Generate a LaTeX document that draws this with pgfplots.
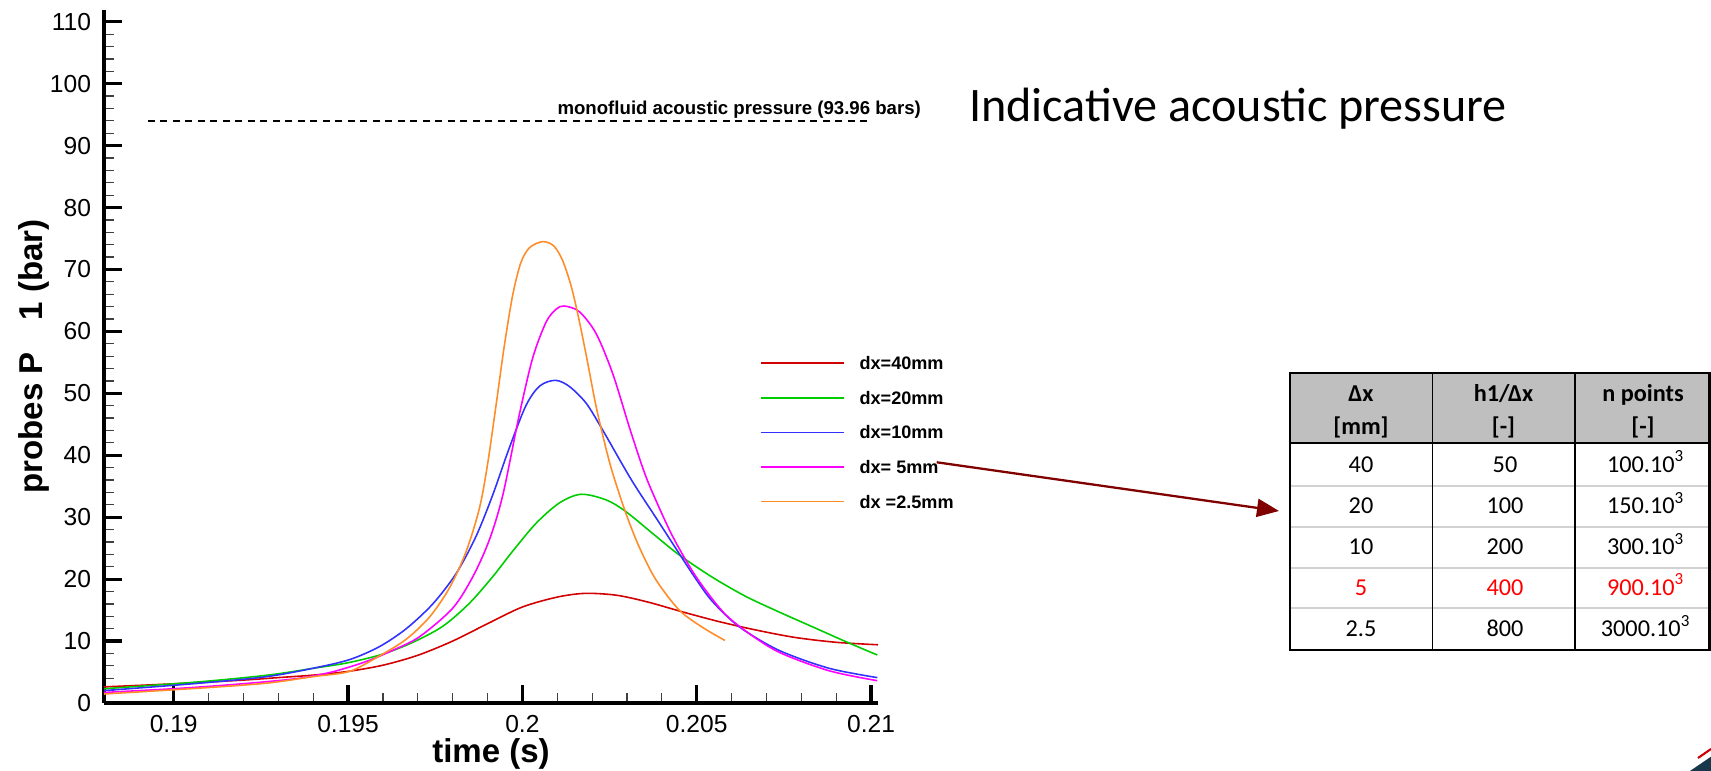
\documentclass[border=0pt]{standalone}
\usepackage{fontspec}
\setmainfont{Liberation Sans}
\newfontfamily\calibri{Carlito}
\usepackage{pgfplots}
\pgfplotsset{compat=1.18}
\usetikzlibrary{arrows.meta}
\definecolor{cred}{RGB}{210,0,0}
\definecolor{cgreen}{RGB}{0,205,0}
\definecolor{cblue}{RGB}{50,50,255}
\definecolor{cmag}{RGB}{255,0,255}
\definecolor{corange}{RGB}{255,140,40}
\definecolor{arrowred}{RGB}{128,0,0}
\definecolor{hdrgray}{RGB}{191,191,191}
\definecolor{sepgray}{RGB}{210,210,210}
\definecolor{logoblue}{RGB}{25,55,75}
\begin{document}
\begin{tikzpicture}
\useasboundingbox (0,0) rectangle (17.11,7.71);
\begin{axis}[
  at={(1.04cm,0.68cm)}, anchor=south west,
  scale only axis, width=7.74cm, height=6.93cm,
  xmin=0.188, xmax=0.2102, ymin=0, ymax=111.9,
  axis lines=left, axis line style={-, line width=1pt},
  tick align=inside,
  xtick={0.19,0.195,0.2,0.205,0.21},
  xticklabels={0.19,0.195,0.2,0.205,0.21},
  scaled x ticks=false,
  ytick={0,10,...,110},
  minor x tick num=4, minor y tick num=4,
  major tick length=1.75mm, minor tick length=1.0mm,
  major tick style={line width=0.9pt, black},
  minor tick style={line width=0.35pt, black!75},
  tick label style={font=\fontsize{7}{8}\selectfont},
  /pgf/number format/assume math mode=true,
  xticklabel style={inner sep=0pt, anchor=north, yshift=-1.2mm},
  yticklabel style={inner sep=0pt, anchor=east, xshift=-1.23mm},
  xlabel={time (s)}, ylabel={probes P\hspace{3.2mm}1 (bar)},
  every axis x label/.style={at={(axis description cs:0.5,-0.0736)}, anchor=center, font=\bfseries\fontsize{9.4}{11}\selectfont},
  every axis y label/.style={at={(axis description cs:-0.0904,0.5)}, anchor=center, rotate=90, font=\bfseries\fontsize{9.4}{11}\selectfont},
  clip=false,
  legend cell align=left,
  legend image code/.code={\draw[#1] (0cm,0cm) -- (0.83cm,0cm);},
  legend style={at={(axis description cs:0.8475,0.4996)}, anchor=north west, draw=none, fill=none, inner sep=0pt, outer sep=0pt, row sep=2.16mm, column sep=1.5mm, font=\bfseries\fontsize{5.15}{6}\selectfont, nodes={inner sep=0pt, text height=1.3mm, text depth=0pt}},
  every axis plot/.append style={line width=0.45pt},
]
\addplot[black, line width=0.4pt, dash pattern=on 0.7mm off 0.55mm, forget plot] coordinates {(0.18926,93.96) (0.2100,93.96)};
\node[anchor=base east, inner sep=0pt, font=\bfseries\fontsize{5.3}{6}\selectfont] at (axis cs:0.21145,95.05) {monofluid acoustic pressure (93.96 bars)};

\addplot[cred, smooth] coordinates {
(0.1880,2.6) (0.1900,3.1) (0.1920,3.7) (0.1930,4.1) (0.1940,4.5) (0.1950,5.1) (0.1960,6.1) (0.1970,7.7) (0.1980,10.0) (0.1990,12.8) (0.2000,15.5) (0.2010,17.1) (0.2018,17.7) (0.2027,17.4) (0.2036,16.3) (0.2046,14.7) (0.2056,13.2) (0.2066,11.9) (0.2078,10.6) (0.2090,9.8) (0.2102,9.4)};
\addlegendentry{dx=40mm}
\addplot[cgreen, smooth] coordinates {
(0.1880,2.3) (0.1907,3.4) (0.1927,4.5) (0.1940,5.6) (0.1950,6.5) (0.1960,7.9) (0.19686,9.8) (0.19772,12.4) (0.19848,16.1) (0.19915,20.4) (0.19972,24.5) (0.20039,29.0) (0.20106,32.3) (0.20168,33.7) (0.20240,32.8) (0.20297,30.9) (0.20373,27.4) (0.20450,23.9) (0.20545,20.3) (0.20641,17.2) (0.20736,14.7) (0.20832,12.3) (0.20928,9.9) (0.21018,7.75)};
\addlegendentry{dx=20mm}
\addplot[cblue, smooth] coordinates {
(0.1880,2.0) (0.19075,3.2) (0.19266,4.25) (0.19399,5.6) (0.19504,7.0) (0.19590,9.1) (0.19667,12.0) (0.19743,16.0) (0.19810,20.9) (0.19867,26.9) (0.19915,33.6) (0.19960,40.8) (0.20010,48.0) (0.20050,51.2) (0.20095,52.1) (0.20135,51.1) (0.20183,48.4) (0.20230,44.1) (0.20313,36.0) (0.20388,29.5) (0.20450,24.1) (0.20498,20.0) (0.20545,16.4) (0.20622,12.3) (0.20736,8.5) (0.20880,5.6) (0.21018,4.1)};
\addlegendentry{dx=10mm}
\addplot[cmag, smooth] coordinates {
(0.1880,1.7) (0.19027,2.4) (0.19218,3.2) (0.19361,4.0) (0.19457,5.05) (0.19552,6.7) (0.19628,8.5) (0.19705,10.7) (0.19800,15.3) (0.19858,20.4) (0.19905,26.3) (0.19944,33.6) (0.19991,46.5) (0.20030,55.8) (0.20068,61.5) (0.20097,63.6) (0.20120,64.1) (0.20163,63.2) (0.20211,59.7) (0.20259,53.2) (0.20307,44.5) (0.20345,38.0) (0.20373,34.0) (0.20431,26.9) (0.20498,20.4) (0.20574,14.8) (0.20641,11.6) (0.20736,8.2) (0.20880,5.2) (0.21018,3.6)};
\addlegendentry{dx= 5mm}
\addplot[corange, smooth] coordinates {
(0.1880,1.45) (0.19075,2.4) (0.19266,3.2) (0.19399,4.25) (0.19504,5.1) (0.19590,7.6) (0.19667,10.3) (0.19734,13.9) (0.19791,18.6) (0.19839,24.5) (0.19877,31.5) (0.19900,38.5) (0.19925,48.3) (0.19948,57.6) (0.19972,65.8) (0.19995,71.0) (0.20020,73.5) (0.20058,74.5) (0.20090,73.8) (0.20115,71.5) (0.20140,67.3) (0.20162,62.0) (0.20185,55.6) (0.20211,48.0) (0.20238,41.5) (0.20259,37.1) (0.20297,30.6) (0.20335,25.2) (0.20383,19.9) (0.20450,15.0) (0.20517,12.2) (0.20581,10.1)};
\addlegendentry{dx =2.5mm}
\end{axis}

% title
\node[anchor=base west, inner sep=0pt, font=\calibri\fontsize{13.7}{16}\selectfont] at (9.683,6.493) {Indicative acoustic pressure};

% arrow
\draw[arrowred, line width=0.65pt, -{Triangle[length=2.2mm,width=1.8mm]}] (9.367,3.087) -- (12.79,2.60);

% table
\begin{scope}[font=\calibri\fontsize{6.9}{8}\selectfont]
\fill[hdrgray] (12.90,3.277) rectangle (17.095,3.977);
\foreach \y in {2.85,2.443,2.033,1.627} \draw[sepgray, line width=0.6pt] (12.90,\y) -- (17.095,\y);
\draw[line width=0.45pt] (14.323,1.21) -- (14.323,3.977);
\draw[line width=0.45pt] (15.747,1.21) -- (15.747,3.977);
\draw[line width=0.6pt] (12.90,3.277) -- (17.095,3.277);
\draw[line width=0.6pt] (12.90,1.21) rectangle (17.095,3.977);
\node[anchor=base, inner sep=0pt, font=\calibri\bfseries\fontsize{6.9}{8}\selectfont] at (13.61,3.69) {Δx};
\node[anchor=base, inner sep=0pt, font=\calibri\bfseries\fontsize{6.9}{8}\selectfont] at (13.61,3.36) {[mm]};
\node[anchor=base, inner sep=0pt, font=\calibri\bfseries\fontsize{6.9}{8}\selectfont] at (15.035,3.69) {h1/Δx};
\node[anchor=base, inner sep=0pt, font=\calibri\bfseries\fontsize{6.9}{8}\selectfont] at (15.035,3.36) {[-]};
\node[anchor=base, inner sep=0pt, font=\calibri\bfseries\fontsize{6.9}{8}\selectfont] at (16.43,3.69) {n points};
\node[anchor=base, inner sep=0pt, font=\calibri\bfseries\fontsize{6.9}{8}\selectfont] at (16.43,3.36) {[-]};
\node[anchor=base, inner sep=0pt] at (13.61,2.988) {40};
\node[anchor=base, inner sep=0pt] at (15.05,2.988) {50};
\node[anchor=base, inner sep=0pt] at (16.46,2.988) {100.10\textsuperscript{3}};
\node[anchor=base, inner sep=0pt] at (13.61,2.571) {20};
\node[anchor=base, inner sep=0pt] at (15.05,2.571) {100};
\node[anchor=base, inner sep=0pt] at (16.46,2.571) {150.10\textsuperscript{3}};
\node[anchor=base, inner sep=0pt] at (13.61,2.163) {10};
\node[anchor=base, inner sep=0pt] at (15.05,2.163) {200};
\node[anchor=base, inner sep=0pt] at (16.46,2.163) {300.10\textsuperscript{3}};
\node[anchor=base, inner sep=0pt, text=red] at (13.61,1.755) {5};
\node[anchor=base, inner sep=0pt, text=red] at (15.05,1.755) {400};
\node[anchor=base, inner sep=0pt, text=red] at (16.46,1.755) {900.10\textsuperscript{3}};
\node[anchor=base, inner sep=0pt] at (13.61,1.343) {2.5};
\node[anchor=base, inner sep=0pt] at (15.05,1.343) {800};
\node[anchor=base, inner sep=0pt] at (16.46,1.343) {3000.10\textsuperscript{3}};
\end{scope}

% logo fragment
\fill[logoblue] (16.90,0) -- (17.11,0.143) -- (17.11,0) -- cycle;
\draw[red!80!black, line width=0.6pt] (16.98,0.13) -- (17.11,0.22);
\end{tikzpicture}
\end{document}
